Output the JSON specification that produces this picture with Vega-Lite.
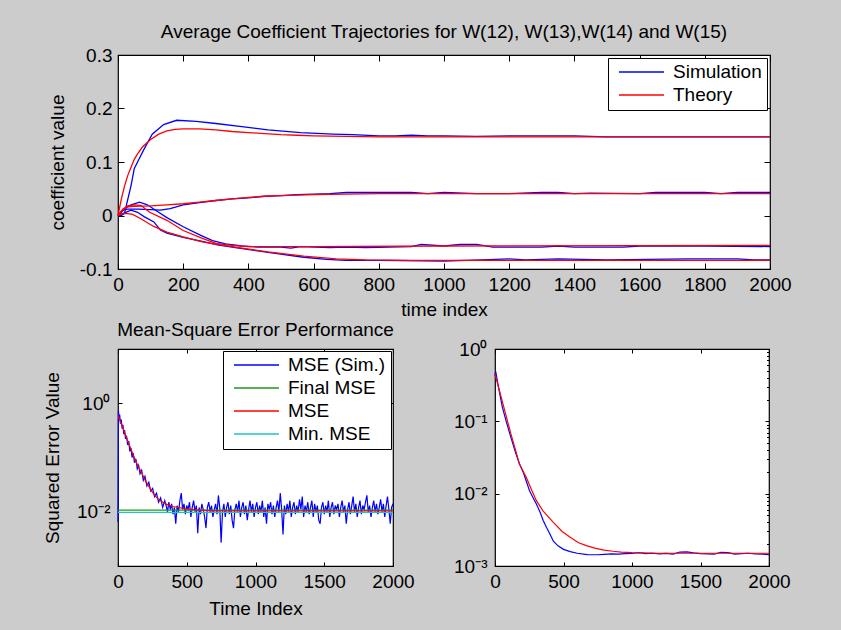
{
  "$schema": "https://vega.github.io/schema/vega-lite/v6.json",
  "autosize": {"type": "none"},
  "padding": {"left": 118, "top": 55, "right": 723, "bottom": 575},
  "background": "#cccccc",
  "datasets": {
    "coef": [
      {"t":0,"v":0,"w":12,"k":"Simulation"},{"t":10,"v":0,"w":12,"k":"Simulation"},{"t":20,"v":0.004,"w":12,"k":"Simulation"},{"t":30,"v":0.03,"w":12,"k":"Simulation"},{"t":40,"v":0.056,"w":12,"k":"Simulation"},{"t":50,"v":0.088,"w":12,"k":"Simulation"},{"t":65,"v":0.106,"w":12,"k":"Simulation"},{"t":80,"v":0.124,"w":12,"k":"Simulation"},{"t":105,"v":0.152,"w":12,"k":"Simulation"},{"t":140,"v":0.17,"w":12,"k":"Simulation"},{"t":180,"v":0.178,"w":12,"k":"Simulation"},{"t":240,"v":0.176,"w":12,"k":"Simulation"},{"t":300,"v":0.172,"w":12,"k":"Simulation"},{"t":380,"v":0.166,"w":12,"k":"Simulation"},{"t":460,"v":0.16,"w":12,"k":"Simulation"},{"t":560,"v":0.155,"w":12,"k":"Simulation"},{"t":660,"v":0.152,"w":12,"k":"Simulation"},{"t":720,"v":0.151,"w":12,"k":"Simulation"},{"t":800,"v":0.149,"w":12,"k":"Simulation"},{"t":850,"v":0.149,"w":12,"k":"Simulation"},{"t":900,"v":0.15,"w":12,"k":"Simulation"},{"t":950,"v":0.149,"w":12,"k":"Simulation"},{"t":1000,"v":0.149,"w":12,"k":"Simulation"},{"t":1100,"v":0.148,"w":12,"k":"Simulation"},{"t":1200,"v":0.149,"w":12,"k":"Simulation"},{"t":1300,"v":0.149,"w":12,"k":"Simulation"},{"t":1400,"v":0.149,"w":12,"k":"Simulation"},{"t":1450,"v":0.148,"w":12,"k":"Simulation"},{"t":1500,"v":0.147,"w":12,"k":"Simulation"},{"t":1700,"v":0.147,"w":12,"k":"Simulation"},{"t":2000,"v":0.147,"w":12,"k":"Simulation"},
      {"t":0,"v":0,"w":13,"k":"Simulation"},{"t":15,"v":0.01,"w":13,"k":"Simulation"},{"t":30,"v":0.012,"w":13,"k":"Simulation"},{"t":60,"v":0.012,"w":13,"k":"Simulation"},{"t":100,"v":0.011,"w":13,"k":"Simulation"},{"t":130,"v":0.01,"w":13,"k":"Simulation"},{"t":160,"v":0.013,"w":13,"k":"Simulation"},{"t":200,"v":0.02,"w":13,"k":"Simulation"},{"t":250,"v":0.024,"w":13,"k":"Simulation"},{"t":300,"v":0.028,"w":13,"k":"Simulation"},{"t":350,"v":0.031,"w":13,"k":"Simulation"},{"t":400,"v":0.033,"w":13,"k":"Simulation"},{"t":450,"v":0.036,"w":13,"k":"Simulation"},{"t":500,"v":0.037,"w":13,"k":"Simulation"},{"t":550,"v":0.039,"w":13,"k":"Simulation"},{"t":600,"v":0.04,"w":13,"k":"Simulation"},{"t":650,"v":0.041,"w":13,"k":"Simulation"},{"t":700,"v":0.043,"w":13,"k":"Simulation"},{"t":800,"v":0.043,"w":13,"k":"Simulation"},{"t":900,"v":0.043,"w":13,"k":"Simulation"},{"t":950,"v":0.041,"w":13,"k":"Simulation"},{"t":1000,"v":0.043,"w":13,"k":"Simulation"},{"t":1100,"v":0.041,"w":13,"k":"Simulation"},{"t":1200,"v":0.041,"w":13,"k":"Simulation"},{"t":1300,"v":0.043,"w":13,"k":"Simulation"},{"t":1350,"v":0.043,"w":13,"k":"Simulation"},{"t":1400,"v":0.041,"w":13,"k":"Simulation"},{"t":1450,"v":0.042,"w":13,"k":"Simulation"},{"t":1600,"v":0.041,"w":13,"k":"Simulation"},{"t":1650,"v":0.043,"w":13,"k":"Simulation"},{"t":1800,"v":0.043,"w":13,"k":"Simulation"},{"t":1850,"v":0.041,"w":13,"k":"Simulation"},{"t":1900,"v":0.043,"w":13,"k":"Simulation"},{"t":2000,"v":0.043,"w":13,"k":"Simulation"},
      {"t":0,"v":0,"w":14,"k":"Simulation"},{"t":20,"v":0.012,"w":14,"k":"Simulation"},{"t":40,"v":0.02,"w":14,"k":"Simulation"},{"t":66,"v":0.025,"w":14,"k":"Simulation"},{"t":90,"v":0.02,"w":14,"k":"Simulation"},{"t":120,"v":0.008,"w":14,"k":"Simulation"},{"t":150,"v":-0.004,"w":14,"k":"Simulation"},{"t":200,"v":-0.021,"w":14,"k":"Simulation"},{"t":254,"v":-0.037,"w":14,"k":"Simulation"},{"t":290,"v":-0.047,"w":14,"k":"Simulation"},{"t":330,"v":-0.053,"w":14,"k":"Simulation"},{"t":380,"v":-0.057,"w":14,"k":"Simulation"},{"t":430,"v":-0.059,"w":14,"k":"Simulation"},{"t":500,"v":-0.059,"w":14,"k":"Simulation"},{"t":530,"v":-0.061,"w":14,"k":"Simulation"},{"t":560,"v":-0.058,"w":14,"k":"Simulation"},{"t":650,"v":-0.06,"w":14,"k":"Simulation"},{"t":700,"v":-0.059,"w":14,"k":"Simulation"},{"t":760,"v":-0.06,"w":14,"k":"Simulation"},{"t":900,"v":-0.058,"w":14,"k":"Simulation"},{"t":930,"v":-0.054,"w":14,"k":"Simulation"},{"t":1000,"v":-0.057,"w":14,"k":"Simulation"},{"t":1050,"v":-0.054,"w":14,"k":"Simulation"},{"t":1100,"v":-0.054,"w":14,"k":"Simulation"},{"t":1150,"v":-0.059,"w":14,"k":"Simulation"},{"t":1300,"v":-0.059,"w":14,"k":"Simulation"},{"t":1350,"v":-0.057,"w":14,"k":"Simulation"},{"t":1400,"v":-0.059,"w":14,"k":"Simulation"},{"t":1550,"v":-0.059,"w":14,"k":"Simulation"},{"t":1600,"v":-0.057,"w":14,"k":"Simulation"},{"t":1800,"v":-0.057,"w":14,"k":"Simulation"},{"t":2000,"v":-0.058,"w":14,"k":"Simulation"},
      {"t":0,"v":0,"w":15,"k":"Simulation"},{"t":20,"v":0.005,"w":15,"k":"Simulation"},{"t":40,"v":0.01,"w":15,"k":"Simulation"},{"t":60,"v":0.006,"w":15,"k":"Simulation"},{"t":80,"v":-0.002,"w":15,"k":"Simulation"},{"t":110,"v":-0.012,"w":15,"k":"Simulation"},{"t":130,"v":-0.027,"w":15,"k":"Simulation"},{"t":150,"v":-0.033,"w":15,"k":"Simulation"},{"t":200,"v":-0.041,"w":15,"k":"Simulation"},{"t":255,"v":-0.048,"w":15,"k":"Simulation"},{"t":305,"v":-0.055,"w":15,"k":"Simulation"},{"t":360,"v":-0.06,"w":15,"k":"Simulation"},{"t":460,"v":-0.069,"w":15,"k":"Simulation"},{"t":570,"v":-0.078,"w":15,"k":"Simulation"},{"t":640,"v":-0.082,"w":15,"k":"Simulation"},{"t":700,"v":-0.084,"w":15,"k":"Simulation"},{"t":800,"v":-0.084,"w":15,"k":"Simulation"},{"t":1000,"v":-0.085,"w":15,"k":"Simulation"},{"t":1070,"v":-0.084,"w":15,"k":"Simulation"},{"t":1200,"v":-0.081,"w":15,"k":"Simulation"},{"t":1250,"v":-0.083,"w":15,"k":"Simulation"},{"t":1350,"v":-0.081,"w":15,"k":"Simulation"},{"t":1500,"v":-0.083,"w":15,"k":"Simulation"},{"t":1750,"v":-0.081,"w":15,"k":"Simulation"},{"t":1900,"v":-0.081,"w":15,"k":"Simulation"},{"t":1950,"v":-0.083,"w":15,"k":"Simulation"},{"t":2000,"v":-0.083,"w":15,"k":"Simulation"},
      {"t":0,"v":0,"w":12,"k":"Theory"},{"t":10,"v":0.03,"w":12,"k":"Theory"},{"t":20,"v":0.055,"w":12,"k":"Theory"},{"t":30,"v":0.075,"w":12,"k":"Theory"},{"t":40,"v":0.09,"w":12,"k":"Theory"},{"t":50,"v":0.105,"w":12,"k":"Theory"},{"t":60,"v":0.115,"w":12,"k":"Theory"},{"t":75,"v":0.128,"w":12,"k":"Theory"},{"t":100,"v":0.142,"w":12,"k":"Theory"},{"t":125,"v":0.152,"w":12,"k":"Theory"},{"t":150,"v":0.158,"w":12,"k":"Theory"},{"t":175,"v":0.161,"w":12,"k":"Theory"},{"t":200,"v":0.162,"w":12,"k":"Theory"},{"t":250,"v":0.162,"w":12,"k":"Theory"},{"t":300,"v":0.16,"w":12,"k":"Theory"},{"t":350,"v":0.157,"w":12,"k":"Theory"},{"t":400,"v":0.155,"w":12,"k":"Theory"},{"t":450,"v":0.153,"w":12,"k":"Theory"},{"t":500,"v":0.151,"w":12,"k":"Theory"},{"t":550,"v":0.15,"w":12,"k":"Theory"},{"t":600,"v":0.149,"w":12,"k":"Theory"},{"t":700,"v":0.148,"w":12,"k":"Theory"},{"t":800,"v":0.147,"w":12,"k":"Theory"},{"t":1000,"v":0.147,"w":12,"k":"Theory"},{"t":2000,"v":0.147,"w":12,"k":"Theory"},
      {"t":0,"v":0,"w":13,"k":"Theory"},{"t":10,"v":0.008,"w":13,"k":"Theory"},{"t":20,"v":0.013,"w":13,"k":"Theory"},{"t":30,"v":0.016,"w":13,"k":"Theory"},{"t":50,"v":0.017,"w":13,"k":"Theory"},{"t":100,"v":0.018,"w":13,"k":"Theory"},{"t":150,"v":0.02,"w":13,"k":"Theory"},{"t":200,"v":0.022,"w":13,"k":"Theory"},{"t":250,"v":0.025,"w":13,"k":"Theory"},{"t":300,"v":0.028,"w":13,"k":"Theory"},{"t":350,"v":0.031,"w":13,"k":"Theory"},{"t":400,"v":0.034,"w":13,"k":"Theory"},{"t":450,"v":0.036,"w":13,"k":"Theory"},{"t":500,"v":0.037,"w":13,"k":"Theory"},{"t":600,"v":0.039,"w":13,"k":"Theory"},{"t":700,"v":0.04,"w":13,"k":"Theory"},{"t":800,"v":0.041,"w":13,"k":"Theory"},{"t":2000,"v":0.041,"w":13,"k":"Theory"},
      {"t":0,"v":0,"w":14,"k":"Theory"},{"t":15,"v":0.012,"w":14,"k":"Theory"},{"t":30,"v":0.018,"w":14,"k":"Theory"},{"t":50,"v":0.02,"w":14,"k":"Theory"},{"t":70,"v":0.019,"w":14,"k":"Theory"},{"t":97,"v":0.006,"w":14,"k":"Theory"},{"t":150,"v":-0.009,"w":14,"k":"Theory"},{"t":200,"v":-0.028,"w":14,"k":"Theory"},{"t":255,"v":-0.042,"w":14,"k":"Theory"},{"t":300,"v":-0.052,"w":14,"k":"Theory"},{"t":350,"v":-0.056,"w":14,"k":"Theory"},{"t":400,"v":-0.058,"w":14,"k":"Theory"},{"t":600,"v":-0.058,"w":14,"k":"Theory"},{"t":1000,"v":-0.057,"w":14,"k":"Theory"},{"t":2000,"v":-0.056,"w":14,"k":"Theory"},
      {"t":0,"v":0,"w":15,"k":"Theory"},{"t":10,"v":0.003,"w":15,"k":"Theory"},{"t":25,"v":0.004,"w":15,"k":"Theory"},{"t":45,"v":0.002,"w":15,"k":"Theory"},{"t":70,"v":-0.006,"w":15,"k":"Theory"},{"t":108,"v":-0.02,"w":15,"k":"Theory"},{"t":150,"v":-0.031,"w":15,"k":"Theory"},{"t":200,"v":-0.04,"w":15,"k":"Theory"},{"t":255,"v":-0.049,"w":15,"k":"Theory"},{"t":305,"v":-0.054,"w":15,"k":"Theory"},{"t":360,"v":-0.059,"w":15,"k":"Theory"},{"t":460,"v":-0.068,"w":15,"k":"Theory"},{"t":570,"v":-0.076,"w":15,"k":"Theory"},{"t":670,"v":-0.081,"w":15,"k":"Theory"},{"t":760,"v":-0.083,"w":15,"k":"Theory"},{"t":900,"v":-0.084,"w":15,"k":"Theory"},{"t":2000,"v":-0.084,"w":15,"k":"Theory"}
    ],
    "mse": [
      {"t":0,"v":0.0065,"s":"MSE (Sim.)"},{"t":3,"v":0.75,"s":"MSE (Sim.)"},{"t":8,"v":0.5,"s":"MSE (Sim.)"},{"t":12,"v":0.62,"s":"MSE (Sim.)"},{"t":18,"v":0.42,"s":"MSE (Sim.)"},{"t":24,"v":0.5,"s":"MSE (Sim.)"},{"t":30,"v":0.34,"s":"MSE (Sim.)"},{"t":36,"v":0.4,"s":"MSE (Sim.)"},{"t":42,"v":0.27,"s":"MSE (Sim.)"},{"t":48,"v":0.32,"s":"MSE (Sim.)"},{"t":55,"v":0.22,"s":"MSE (Sim.)"},{"t":62,"v":0.25,"s":"MSE (Sim.)"},{"t":70,"v":0.17,"s":"MSE (Sim.)"},{"t":78,"v":0.2,"s":"MSE (Sim.)"},{"t":86,"v":0.13,"s":"MSE (Sim.)"},{"t":94,"v":0.15,"s":"MSE (Sim.)"},{"t":102,"v":0.1,"s":"MSE (Sim.)"},{"t":110,"v":0.12,"s":"MSE (Sim.)"},{"t":120,"v":0.08,"s":"MSE (Sim.)"},{"t":130,"v":0.095,"s":"MSE (Sim.)"},{"t":140,"v":0.062,"s":"MSE (Sim.)"},{"t":150,"v":0.072,"s":"MSE (Sim.)"},{"t":160,"v":0.05,"s":"MSE (Sim.)"},{"t":172,"v":0.058,"s":"MSE (Sim.)"},{"t":184,"v":0.038,"s":"MSE (Sim.)"},{"t":196,"v":0.045,"s":"MSE (Sim.)"},{"t":210,"v":0.03,"s":"MSE (Sim.)"},{"t":224,"v":0.035,"s":"MSE (Sim.)"},{"t":238,"v":0.024,"s":"MSE (Sim.)"},{"t":252,"v":0.027,"s":"MSE (Sim.)"},{"t":266,"v":0.019,"s":"MSE (Sim.)"},{"t":280,"v":0.022,"s":"MSE (Sim.)"},{"t":295,"v":0.015,"s":"MSE (Sim.)"},{"t":310,"v":0.018,"s":"MSE (Sim.)"},{"t":325,"v":0.012,"s":"MSE (Sim.)"},{"t":340,"v":0.016,"s":"MSE (Sim.)"},
      {"t":350,"v":0.013,"s":"MSE (Sim.)"},{"t":360,"v":0.010,"s":"MSE (Sim.)"},{"t":370,"v":0.015,"s":"MSE (Sim.)"},{"t":380,"v":0.011,"s":"MSE (Sim.)"},{"t":390,"v":0.014,"s":"MSE (Sim.)"},{"t":400,"v":0.009,"s":"MSE (Sim.)"},{"t":410,"v":0.012,"s":"MSE (Sim.)"},{"t":420,"v":0.006,"s":"MSE (Sim.)"},{"t":430,"v":0.013,"s":"MSE (Sim.)"},{"t":440,"v":0.010,"s":"MSE (Sim.)"},{"t":450,"v":0.016,"s":"MSE (Sim.)"},{"t":460,"v":0.022,"s":"MSE (Sim.)"},{"t":470,"v":0.011,"s":"MSE (Sim.)"},{"t":480,"v":0.014,"s":"MSE (Sim.)"},{"t":490,"v":0.009,"s":"MSE (Sim.)"},{"t":500,"v":0.013,"s":"MSE (Sim.)"},{"t":510,"v":0.011,"s":"MSE (Sim.)"},{"t":520,"v":0.015,"s":"MSE (Sim.)"},{"t":530,"v":0.008,"s":"MSE (Sim.)"},{"t":540,"v":0.012,"s":"MSE (Sim.)"},{"t":550,"v":0.016,"s":"MSE (Sim.)"},{"t":560,"v":0.010,"s":"MSE (Sim.)"},{"t":570,"v":0.013,"s":"MSE (Sim.)"},{"t":580,"v":0.004,"s":"MSE (Sim.)"},{"t":590,"v":0.012,"s":"MSE (Sim.)"},{"t":600,"v":0.009,"s":"MSE (Sim.)"},{"t":610,"v":0.014,"s":"MSE (Sim.)"},{"t":620,"v":0.011,"s":"MSE (Sim.)"},{"t":630,"v":0.008,"s":"MSE (Sim.)"},{"t":640,"v":0.005,"s":"MSE (Sim.)"},{"t":650,"v":0.012,"s":"MSE (Sim.)"},{"t":660,"v":0.015,"s":"MSE (Sim.)"},{"t":670,"v":0.010,"s":"MSE (Sim.)"},{"t":680,"v":0.013,"s":"MSE (Sim.)"},{"t":690,"v":0.008,"s":"MSE (Sim.)"},{"t":700,"v":0.011,"s":"MSE (Sim.)"},{"t":710,"v":0.014,"s":"MSE (Sim.)"},{"t":720,"v":0.009,"s":"MSE (Sim.)"},{"t":730,"v":0.020,"s":"MSE (Sim.)"},{"t":740,"v":0.012,"s":"MSE (Sim.)"},{"t":750,"v":0.0027,"s":"MSE (Sim.)"},{"t":760,"v":0.010,"s":"MSE (Sim.)"},{"t":770,"v":0.014,"s":"MSE (Sim.)"},{"t":780,"v":0.008,"s":"MSE (Sim.)"},{"t":790,"v":0.012,"s":"MSE (Sim.)"},{"t":800,"v":0.015,"s":"MSE (Sim.)"},{"t":810,"v":0.009,"s":"MSE (Sim.)"},{"t":820,"v":0.013,"s":"MSE (Sim.)"},{"t":830,"v":0.007,"s":"MSE (Sim.)"},{"t":840,"v":0.005,"s":"MSE (Sim.)"},{"t":850,"v":0.011,"s":"MSE (Sim.)"},{"t":860,"v":0.014,"s":"MSE (Sim.)"},{"t":870,"v":0.010,"s":"MSE (Sim.)"},{"t":880,"v":0.016,"s":"MSE (Sim.)"},{"t":890,"v":0.008,"s":"MSE (Sim.)"},{"t":900,"v":0.012,"s":"MSE (Sim.)"},{"t":910,"v":0.015,"s":"MSE (Sim.)"},{"t":920,"v":0.009,"s":"MSE (Sim.)"},{"t":930,"v":0.013,"s":"MSE (Sim.)"},{"t":940,"v":0.007,"s":"MSE (Sim.)"},{"t":950,"v":0.011,"s":"MSE (Sim.)"},{"t":960,"v":0.016,"s":"MSE (Sim.)"},{"t":970,"v":0.010,"s":"MSE (Sim.)"},{"t":980,"v":0.014,"s":"MSE (Sim.)"},{"t":990,"v":0.008,"s":"MSE (Sim.)"},{"t":1000,"v":0.012,"s":"MSE (Sim.)"},{"t":1010,"v":0.015,"s":"MSE (Sim.)"},{"t":1020,"v":0.009,"s":"MSE (Sim.)"},{"t":1030,"v":0.013,"s":"MSE (Sim.)"},{"t":1040,"v":0.010,"s":"MSE (Sim.)"},{"t":1050,"v":0.016,"s":"MSE (Sim.)"},{"t":1060,"v":0.008,"s":"MSE (Sim.)"},{"t":1070,"v":0.012,"s":"MSE (Sim.)"},{"t":1080,"v":0.006,"s":"MSE (Sim.)"},{"t":1090,"v":0.014,"s":"MSE (Sim.)"},{"t":1100,"v":0.011,"s":"MSE (Sim.)"},{"t":1110,"v":0.015,"s":"MSE (Sim.)"},{"t":1120,"v":0.009,"s":"MSE (Sim.)"},{"t":1130,"v":0.013,"s":"MSE (Sim.)"},{"t":1140,"v":0.008,"s":"MSE (Sim.)"},{"t":1150,"v":0.012,"s":"MSE (Sim.)"},{"t":1160,"v":0.016,"s":"MSE (Sim.)"},{"t":1170,"v":0.010,"s":"MSE (Sim.)"},{"t":1180,"v":0.022,"s":"MSE (Sim.)"},{"t":1190,"v":0.011,"s":"MSE (Sim.)"},{"t":1200,"v":0.0038,"s":"MSE (Sim.)"},{"t":1210,"v":0.013,"s":"MSE (Sim.)"},{"t":1220,"v":0.009,"s":"MSE (Sim.)"},{"t":1230,"v":0.014,"s":"MSE (Sim.)"},{"t":1240,"v":0.010,"s":"MSE (Sim.)"},{"t":1250,"v":0.016,"s":"MSE (Sim.)"},{"t":1260,"v":0.008,"s":"MSE (Sim.)"},{"t":1270,"v":0.012,"s":"MSE (Sim.)"},{"t":1280,"v":0.015,"s":"MSE (Sim.)"},{"t":1290,"v":0.009,"s":"MSE (Sim.)"},{"t":1300,"v":0.013,"s":"MSE (Sim.)"},{"t":1310,"v":0.010,"s":"MSE (Sim.)"},{"t":1320,"v":0.017,"s":"MSE (Sim.)"},{"t":1330,"v":0.011,"s":"MSE (Sim.)"},{"t":1340,"v":0.019,"s":"MSE (Sim.)"},{"t":1350,"v":0.008,"s":"MSE (Sim.)"},{"t":1360,"v":0.013,"s":"MSE (Sim.)"},{"t":1370,"v":0.010,"s":"MSE (Sim.)"},{"t":1380,"v":0.015,"s":"MSE (Sim.)"},{"t":1390,"v":0.009,"s":"MSE (Sim.)"},{"t":1400,"v":0.012,"s":"MSE (Sim.)"},{"t":1410,"v":0.016,"s":"MSE (Sim.)"},{"t":1420,"v":0.008,"s":"MSE (Sim.)"},{"t":1430,"v":0.014,"s":"MSE (Sim.)"},{"t":1440,"v":0.010,"s":"MSE (Sim.)"},{"t":1450,"v":0.013,"s":"MSE (Sim.)"},{"t":1460,"v":0.007,"s":"MSE (Sim.)"},{"t":1470,"v":0.006,"s":"MSE (Sim.)"},{"t":1480,"v":0.012,"s":"MSE (Sim.)"},{"t":1490,"v":0.015,"s":"MSE (Sim.)"},{"t":1500,"v":0.009,"s":"MSE (Sim.)"},{"t":1510,"v":0.013,"s":"MSE (Sim.)"},{"t":1520,"v":0.010,"s":"MSE (Sim.)"},{"t":1530,"v":0.016,"s":"MSE (Sim.)"},{"t":1540,"v":0.008,"s":"MSE (Sim.)"},{"t":1550,"v":0.012,"s":"MSE (Sim.)"},{"t":1560,"v":0.015,"s":"MSE (Sim.)"},{"t":1570,"v":0.009,"s":"MSE (Sim.)"},{"t":1580,"v":0.013,"s":"MSE (Sim.)"},{"t":1590,"v":0.011,"s":"MSE (Sim.)"},{"t":1600,"v":0.014,"s":"MSE (Sim.)"},{"t":1610,"v":0.008,"s":"MSE (Sim.)"},{"t":1620,"v":0.012,"s":"MSE (Sim.)"},{"t":1630,"v":0.016,"s":"MSE (Sim.)"},{"t":1640,"v":0.010,"s":"MSE (Sim.)"},{"t":1650,"v":0.013,"s":"MSE (Sim.)"},{"t":1660,"v":0.006,"s":"MSE (Sim.)"},{"t":1670,"v":0.011,"s":"MSE (Sim.)"},{"t":1680,"v":0.015,"s":"MSE (Sim.)"},{"t":1690,"v":0.009,"s":"MSE (Sim.)"},{"t":1700,"v":0.013,"s":"MSE (Sim.)"},{"t":1710,"v":0.019,"s":"MSE (Sim.)"},{"t":1720,"v":0.010,"s":"MSE (Sim.)"},{"t":1730,"v":0.014,"s":"MSE (Sim.)"},{"t":1740,"v":0.008,"s":"MSE (Sim.)"},{"t":1750,"v":0.012,"s":"MSE (Sim.)"},{"t":1760,"v":0.016,"s":"MSE (Sim.)"},{"t":1770,"v":0.009,"s":"MSE (Sim.)"},{"t":1780,"v":0.013,"s":"MSE (Sim.)"},{"t":1790,"v":0.011,"s":"MSE (Sim.)"},{"t":1800,"v":0.015,"s":"MSE (Sim.)"},{"t":1810,"v":0.020,"s":"MSE (Sim.)"},{"t":1820,"v":0.010,"s":"MSE (Sim.)"},{"t":1830,"v":0.013,"s":"MSE (Sim.)"},{"t":1840,"v":0.008,"s":"MSE (Sim.)"},{"t":1850,"v":0.012,"s":"MSE (Sim.)"},{"t":1860,"v":0.016,"s":"MSE (Sim.)"},{"t":1870,"v":0.010,"s":"MSE (Sim.)"},{"t":1880,"v":0.014,"s":"MSE (Sim.)"},{"t":1890,"v":0.009,"s":"MSE (Sim.)"},{"t":1900,"v":0.012,"s":"MSE (Sim.)"},{"t":1910,"v":0.017,"s":"MSE (Sim.)"},{"t":1920,"v":0.010,"s":"MSE (Sim.)"},{"t":1930,"v":0.014,"s":"MSE (Sim.)"},{"t":1940,"v":0.008,"s":"MSE (Sim.)"},{"t":1950,"v":0.013,"s":"MSE (Sim.)"},{"t":1960,"v":0.019,"s":"MSE (Sim.)"},{"t":1970,"v":0.011,"s":"MSE (Sim.)"},{"t":1980,"v":0.006,"s":"MSE (Sim.)"},{"t":1990,"v":0.012,"s":"MSE (Sim.)"},{"t":2000,"v":0.014,"s":"MSE (Sim.)"},
      {"t":0,"v":0.0107,"s":"Final MSE"},{"t":2000,"v":0.0107,"s":"Final MSE"},
      {"t":0,"v":0.6,"s":"MSE"},{"t":25,"v":0.41,"s":"MSE"},{"t":50,"v":0.28,"s":"MSE"},{"t":75,"v":0.19,"s":"MSE"},{"t":100,"v":0.13,"s":"MSE"},{"t":125,"v":0.09,"s":"MSE"},{"t":150,"v":0.066,"s":"MSE"},{"t":175,"v":0.05,"s":"MSE"},{"t":200,"v":0.037,"s":"MSE"},{"t":225,"v":0.029,"s":"MSE"},{"t":250,"v":0.023,"s":"MSE"},{"t":275,"v":0.019,"s":"MSE"},{"t":300,"v":0.0165,"s":"MSE"},{"t":350,"v":0.0138,"s":"MSE"},{"t":400,"v":0.0125,"s":"MSE"},{"t":475,"v":0.0115,"s":"MSE"},{"t":550,"v":0.0109,"s":"MSE"},{"t":600,"v":0.0107,"s":"MSE"},{"t":700,"v":0.0104,"s":"MSE"},{"t":2000,"v":0.0104,"s":"MSE"},
      {"t":0,"v":0.0097,"s":"Min. MSE"},{"t":2000,"v":0.0097,"s":"Min. MSE"}
    ],
    "br": [
      {"t":0,"v":0.42,"s":"sim"},{"t":5,"v":0.49,"s":"sim"},{"t":25,"v":0.3,"s":"sim"},{"t":54,"v":0.156,"s":"sim"},{"t":85,"v":0.095,"s":"sim"},{"t":116,"v":0.06,"s":"sim"},{"t":150,"v":0.037,"s":"sim"},{"t":178,"v":0.026,"s":"sim"},{"t":205,"v":0.02,"s":"sim"},{"t":228,"v":0.015,"s":"sim"},{"t":252,"v":0.011,"s":"sim"},{"t":278,"v":0.0088,"s":"sim"},{"t":302,"v":0.0072,"s":"sim"},{"t":330,"v":0.0055,"s":"sim"},{"t":351,"v":0.0043,"s":"sim"},{"t":376,"v":0.0034,"s":"sim"},{"t":400,"v":0.0028,"s":"sim"},{"t":426,"v":0.0022,"s":"sim"},{"t":460,"v":0.0019,"s":"sim"},{"t":500,"v":0.0017,"s":"sim"},{"t":549,"v":0.00158,"s":"sim"},{"t":600,"v":0.0015,"s":"sim"},{"t":673,"v":0.00144,"s":"sim"},{"t":750,"v":0.00143,"s":"sim"},{"t":800,"v":0.00145,"s":"sim"},{"t":850,"v":0.00147,"s":"sim"},{"t":900,"v":0.00146,"s":"sim"},{"t":950,"v":0.00148,"s":"sim"},{"t":1000,"v":0.00149,"s":"sim"},{"t":1050,"v":0.00153,"s":"sim"},{"t":1100,"v":0.00148,"s":"sim"},{"t":1150,"v":0.0015,"s":"sim"},{"t":1200,"v":0.00147,"s":"sim"},{"t":1250,"v":0.00149,"s":"sim"},{"t":1300,"v":0.00146,"s":"sim"},{"t":1350,"v":0.00156,"s":"sim"},{"t":1400,"v":0.00157,"s":"sim"},{"t":1450,"v":0.00152,"s":"sim"},{"t":1500,"v":0.00148,"s":"sim"},{"t":1550,"v":0.00147,"s":"sim"},{"t":1600,"v":0.00146,"s":"sim"},{"t":1650,"v":0.00155,"s":"sim"},{"t":1700,"v":0.00153,"s":"sim"},{"t":1750,"v":0.00146,"s":"sim"},{"t":1800,"v":0.00148,"s":"sim"},{"t":1850,"v":0.0015,"s":"sim"},{"t":1900,"v":0.00147,"s":"sim"},{"t":1950,"v":0.00146,"s":"sim"},{"t":2000,"v":0.00144,"s":"sim"},
      {"t":0,"v":0.45,"s":"theory"},{"t":50,"v":0.2,"s":"theory"},{"t":116,"v":0.067,"s":"theory"},{"t":150,"v":0.04,"s":"theory"},{"t":178,"v":0.0257,"s":"theory"},{"t":228,"v":0.0168,"s":"theory"},{"t":265,"v":0.0115,"s":"theory"},{"t":302,"v":0.008,"s":"theory"},{"t":350,"v":0.0058,"s":"theory"},{"t":426,"v":0.004,"s":"theory"},{"t":490,"v":0.003,"s":"theory"},{"t":549,"v":0.0025,"s":"theory"},{"t":610,"v":0.0021,"s":"theory"},{"t":673,"v":0.0019,"s":"theory"},{"t":735,"v":0.00175,"s":"theory"},{"t":797,"v":0.00166,"s":"theory"},{"t":860,"v":0.0016,"s":"theory"},{"t":921,"v":0.00156,"s":"theory"},{"t":1000,"v":0.00153,"s":"theory"},{"t":1200,"v":0.0015,"s":"theory"},{"t":2000,"v":0.0015,"s":"theory"}
    ]
  },
  "spacing": 80,
  "bounds": "flush",
  "resolve": {"scale": {"color": "independent"}, "legend": {"color": "independent"}},
  "vconcat": [
    {
      "width": 652,
      "height": 214,
      "title": {"text": "Average Coefficient Trajectories for W(12), W(13),W(14) and W(15)", "offset": 4},
      "data": {"name": "coef"},
      "layer": [
        {
          "transform": [{"filter": "datum.k == 'Simulation'"}],
          "mark": {"type": "line", "strokeWidth": 1.3},
          "encoding": {
            "x": {"field": "t", "type": "quantitative", "scale": {"domain": [0, 2000], "nice": false},
                  "axis": {"orient": "bottom", "values": [0,200,400,600,800,1000,1200,1400,1600,1800,2000], "format": "d", "title": "time index", "titlePadding": 6}},
            "y": {"field": "v", "type": "quantitative", "scale": {"domain": [-0.1, 0.3], "nice": false, "zero": false},
                  "axis": {"orient": "left", "values": [-0.1,0,0.1,0.2,0.3], "labelExpr": "'' + datum.value", "title": "coefficient value", "titlePadding": 12}},
            "color": {"field": "k", "type": "nominal", "title": null,
                      "scale": {"domain": ["Simulation", "Theory"], "range": ["#0000ff", "#ff0000"]},
                      "legend": {"orient": "top-right", "offset": 3}},
            "detail": {"field": "w"}
          }
        },
        {
          "transform": [{"filter": "datum.k == 'Theory'"}],
          "mark": {"type": "line", "strokeWidth": 1.3},
          "encoding": {
            "x": {"field": "t", "type": "quantitative", "axis": {"orient": "top", "values": [0,200,400,600,800,1000,1200,1400,1600,1800,2000], "labels": false, "title": null}},
            "y": {"field": "v", "type": "quantitative", "axis": {"orient": "right", "values": [-0.1,0,0.1,0.2,0.3], "labels": false, "title": null}},
            "color": {"field": "k", "type": "nominal", "title": null, "legend": {"orient": "top-right", "offset": 3}},
            "detail": {"field": "w"}
          }
        }
      ],
      "resolve": {"axis": {"x": "independent", "y": "independent"}}
    },
    {
      "spacing": 102,
      "bounds": "flush",
      "resolve": {"scale": {"color": "independent"}, "legend": {"color": "independent"}},
      "hconcat": [
        {
          "width": 275,
          "height": 217,
          "title": {"text": "Mean-Square Error Performance", "offset": 9},
          "data": {"name": "mse"},
          "layer": [
            {
              "transform": [{"filter": "datum.s == 'MSE (Sim.)'"}],
              "mark": {"type": "line", "strokeWidth": 1.2},
              "encoding": {
                "x": {"field": "t", "type": "quantitative", "scale": {"domain": [0, 2000], "nice": false},
                      "axis": {"orient": "bottom", "values": [0,500,1000,1500,2000], "format": "d", "title": "Time Index", "tickSize": -4, "labelPadding": 10}},
                "y": {"field": "v", "type": "quantitative", "scale": {"type": "log", "domain": [0.001, 10], "nice": false},
                      "axis": {"orient": "left", "values": [0.01, 1], "labelExpr": "datum.value >= 1 ? '10⁰' : '10⁻²'", "title": "Squared Error Value", "titlePadding": 14, "tickSize": -4, "labelPadding": 12}},
                "color": {"field": "s", "type": "nominal", "title": null,
                          "scale": {"domain": ["MSE (Sim.)", "Final MSE", "MSE", "Min. MSE"], "range": ["#0000ff", "#1a9a1a", "#ff0000", "#20c4c4"]},
                          "legend": {"orient": "top-right", "offset": 2}}
              }
            },
            {
              "transform": [{"filter": "datum.s == 'Final MSE'"}],
              "mark": {"type": "line", "strokeWidth": 1.2},
              "encoding": {
                "x": {"field": "t", "type": "quantitative", "axis": null},
                "y": {"field": "v", "type": "quantitative", "axis": null},
                "color": {"field": "s", "type": "nominal", "title": null, "legend": {"orient": "top-right", "offset": 2}}
              }
            },
            {
              "transform": [{"filter": "datum.s == 'MSE'"}],
              "mark": {"type": "line", "strokeWidth": 1.2},
              "encoding": {
                "x": {"field": "t", "type": "quantitative", "axis": null},
                "y": {"field": "v", "type": "quantitative", "axis": null},
                "color": {"field": "s", "type": "nominal", "title": null, "legend": {"orient": "top-right", "offset": 2}}
              }
            },
            {
              "transform": [{"filter": "datum.s == 'Min. MSE'"}],
              "mark": {"type": "line", "strokeWidth": 1.2},
              "encoding": {
                "x": {"field": "t", "type": "quantitative", "axis": {"orient": "top", "values": [0,500,1000,1500,2000], "labels": false, "title": null, "tickSize": -4}},
                "y": {"field": "v", "type": "quantitative", "axis": {"orient": "right", "values": [0.01, 1], "labels": false, "title": null, "tickSize": -4}},
                "color": {"field": "s", "type": "nominal", "title": null, "legend": {"orient": "top-right", "offset": 2}}
              }
            }
          ],
          "resolve": {"axis": {"x": "independent", "y": "independent"}}
        },
        {
          "width": 274,
          "height": 217,
          "data": {"name": "br"},
          "layer": [
            {
              "transform": [{"filter": "datum.s == 'sim'"}],
              "mark": {"type": "line", "strokeWidth": 1.2, "color": "#0000ff"},
              "encoding": {
                "x": {"field": "t", "type": "quantitative", "scale": {"domain": [0, 2000], "nice": false},
                      "axis": {"orient": "bottom", "values": [0,500,1000,1500,2000], "format": "d", "title": null, "tickSize": -4, "labelPadding": 10}},
                "y": {"field": "v", "type": "quantitative", "scale": {"type": "log", "domain": [0.001, 1], "nice": false},
                      "axis": {"orient": "left", "values": [0.001, 0.01, 0.1, 1], "labelExpr": "datum.value >= 1 ? '10⁰' : datum.value >= 0.1 ? '10⁻¹' : datum.value >= 0.01 ? '10⁻²' : '10⁻³'", "title": null, "tickSize": -4, "labelPadding": 12}}
              }
            },
            {
              "transform": [{"filter": "datum.s == 'theory'"}],
              "mark": {"type": "line", "strokeWidth": 1.2, "color": "#ff0000"},
              "encoding": {
                "x": {"field": "t", "type": "quantitative", "axis": {"orient": "top", "values": [0,500,1000,1500,2000], "labels": false, "title": null, "tickSize": -4}},
                "y": {"field": "v", "type": "quantitative",
                      "axis": {"orient": "right", "labels": false, "title": null,
                               "values": [0.001,0.002,0.003,0.004,0.005,0.006,0.007,0.008,0.009,0.01,0.02,0.03,0.04,0.05,0.06,0.07,0.08,0.09,0.1,0.2,0.3,0.4,0.5,0.6,0.7,0.8,0.9,1],
                               "tickSize": {"condition": {"test": "abs(log(datum.value)/LN10 - round(log(datum.value)/LN10)) < 0.000001", "value": -4}, "value": -2.5}}}
              }
            }
          ],
          "resolve": {"axis": {"x": "independent", "y": "independent"}}
        }
      ]
    }
  ],
  "config": {
    "font": "Liberation Sans",
    "view": {"fill": "white", "stroke": "black", "strokeWidth": 1.2},
    "axis": {
      "domain": false, "grid": false, "tickColor": "black", "tickWidth": 1, "tickSize": -6,
      "labelPadding": 12, "labelFont": "Liberation Sans", "labelFontSize": 19, "labelColor": "black",
      "labelFlush": false, "labelOverlap": false, "labelBound": false,
      "titleFont": "Liberation Sans", "titleFontSize": 19, "titleFontWeight": "normal", "titleColor": "black", "titlePadding": 8
    },
    "title": {"font": "Liberation Sans", "fontSize": 19, "fontWeight": "normal", "color": "black", "anchor": "middle"},
    "legend": {
      "symbolType": "stroke", "symbolSize": 2025, "symbolStrokeWidth": 1.5, "symbolOffset": 5,
      "labelFont": "Liberation Sans", "labelFontSize": 19, "labelColor": "black", "labelOffset": 8, "labelLimit": 300,
      "padding": 5, "strokeColor": "black", "fillColor": "white", "clipHeight": 18, "rowPadding": 4
    }
  }
}
